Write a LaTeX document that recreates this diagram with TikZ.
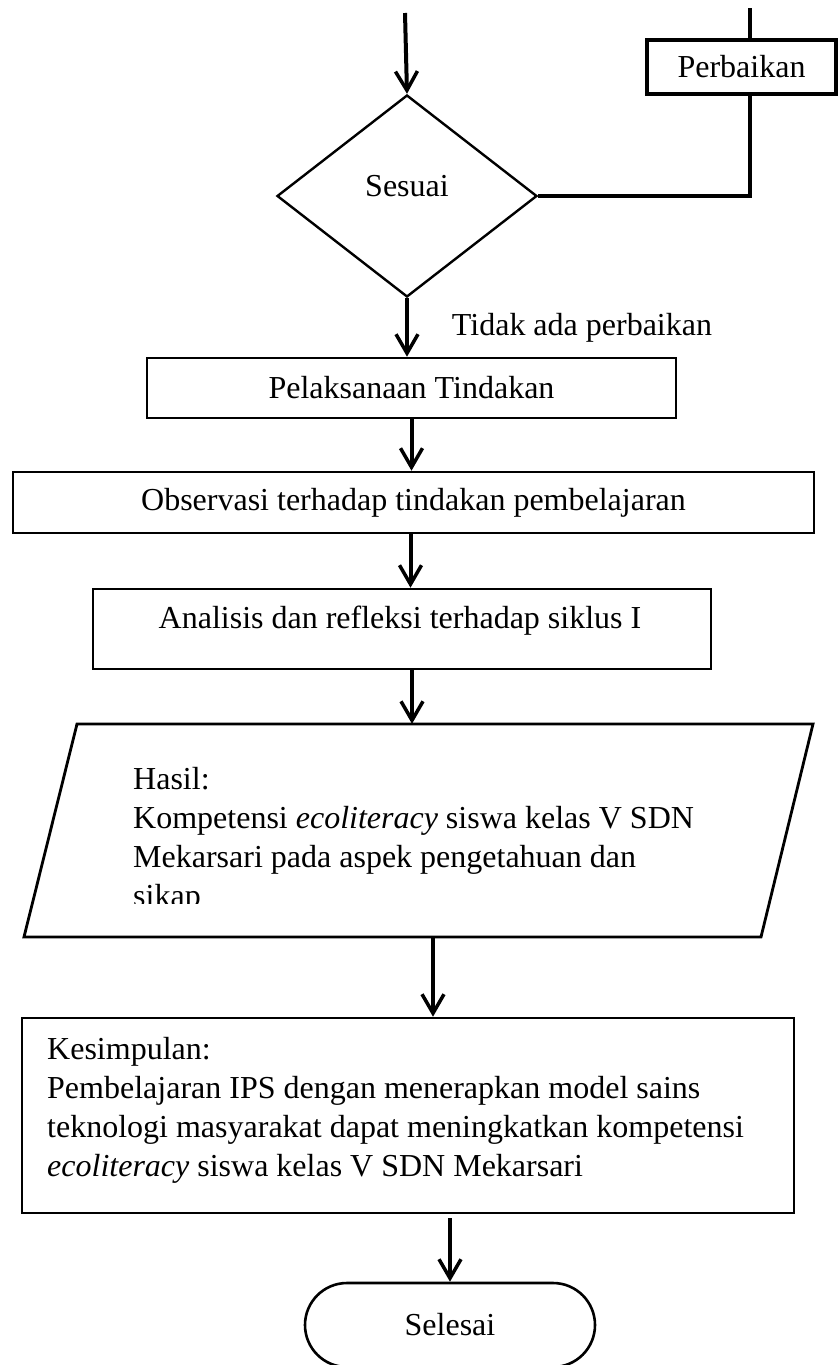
\documentclass[tikz,border=0pt]{standalone}
\usepackage{fontspec}
\setmainfont{Liberation Serif}
\usetikzlibrary{arrows.meta,shapes.geometric,calc}
\begin{document}
\begin{tikzpicture}[x=1pt,y=-1pt,
  every node/.style={font=\fontsize{32}{39}\selectfont},
  box/.style={draw,line width=2.6pt,rectangle,inner sep=0pt},
  thickbox/.style={draw,line width=4.5pt,rectangle,inner sep=0pt},
  arr/.style={line width=4pt,-{Straight Barb[length=19pt,width=22pt,line width=3.5pt]}},
  plain/.style={line width=3.2pt},
  lbl/.style={inner sep=0pt,anchor=base}
]
\useasboundingbox (0,0) rectangle (838,1365);

% start and decision
\coordinate (start) at (405,13);
\node[draw,diamond,line width=2.4pt,inner sep=0pt,minimum width=260pt,minimum height=202pt] (dia) at (407,196) {};
\node[lbl] (diatext) at (407,196) {Sesuai};
\draw[arr] (start) -- (dia.north);

% Perbaikan loop
\node[thickbox,minimum width=189pt,minimum height=54pt] (perb) at (741.5,67) {Perbaikan};
\coordinate (perbtop) at (750,8);
\coordinate (corner) at (750,196);
\draw[plain] (perbtop) -- (perbtop |- perb.north);
\draw[plain] (dia.east) -- (corner) -- (corner |- perb.south);

% Pelaksanaan
\node[box,minimum width=529pt,minimum height=60pt] (pel) at (411.5,388) {Pelaksanaan Tindakan};
\node[lbl] (tidak) at (582,335) {Tidak ada perbaikan};
\draw[arr] (dia.south) -- (dia.south |- pel.north);

% Observasi
\node[box,minimum width=801pt,minimum height=61pt] (obs) at (413.5,502.5) {Observasi terhadap tindakan pembelajaran};
\draw[arr] (pel.south) -- (pel.south |- obs.north);

% Analisis
\node[box,minimum width=618pt,minimum height=80pt] (ana) at (402,629) {};
\node[lbl] (anatext) at (400,628) {Analisis dan refleksi terhadap siklus I};
\draw[arr] ([xshift=-3pt]obs.south) -- ([xshift=-3pt]obs.south |- ana.north);

% Hasil (parallelogram)
\coordinate (h1) at (77,724);
\coordinate (h2) at (813,724);
\coordinate (h3) at (761,937);
\coordinate (h4) at (24,937);
\draw[line width=2.8pt,line join=miter] (h1) -- (h2) -- (h3) -- (h4) -- cycle;
\node[inner sep=0pt,minimum width=789pt,minimum height=213pt] (hasil) at (418.5,830.5) {};
\begin{scope}
  \clip (0,724) rectangle (838,903);
  \node[inner sep=0pt,anchor=north west,align=left] (hasiltext) at (133,767)
    {Hasil:\\Kompetensi \textit{ecoliteracy} siswa kelas V SDN\\Mekarsari pada aspek pengetahuan dan\\sikap};
\end{scope}
\draw[arr] ([xshift=10pt]ana.south) -- ([xshift=10pt]ana.south |- hasil.north);

% Kesimpulan
\node[box,minimum width=772pt,minimum height=195pt] (kes) at (408,1115.5) {};
\node[inner sep=0pt,anchor=north west,align=left] (kestext) at (47,1037)
  {Kesimpulan:\\Pembelajaran IPS dengan menerapkan model sains\\teknologi masyarakat dapat meningkatkan kompetensi\\\textit{ecoliteracy} siswa kelas V SDN Mekarsari};
\draw[arr] ([xshift=14.5pt]hasil.south) -- ([xshift=14.5pt]hasil.south |- kes.north);

% Selesai
\node[draw,line width=2.6pt,rectangle,rounded corners=42pt,inner sep=0pt,minimum width=290pt,minimum height=84pt] (sel) at (450,1325) {Selesai};
\draw[arr] ([xshift=42pt,yshift=-4pt]kes.south) -- ([xshift=42pt]kes.south |- sel.north);
\end{tikzpicture}
\end{document}
